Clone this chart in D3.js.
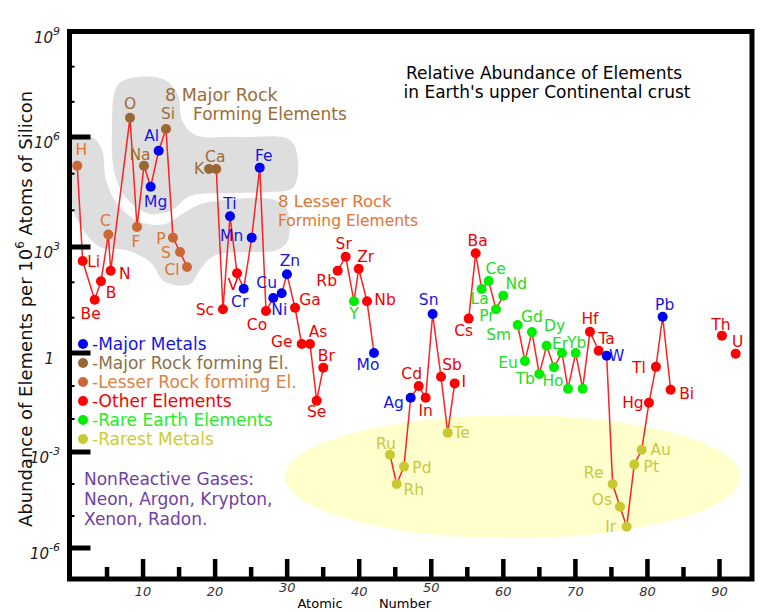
<!DOCTYPE html>
<html><head><meta charset="utf-8">
<script src="https://cdn.jsdelivr.net/npm/d3@7"></script>
<style>body{margin:0;background:#fff}svg{display:block}text{font-family:"DejaVu Sans",sans-serif}</style>
</head><body><svg id="c" width="766" height="612"></svg>
<script>
// ---------------- DATA ----------------
const symbols = ["H","Li","Be","B","C","N","O","F","Na","Mg","Al","Si","P","S","Cl","K","Ca","Sc","Ti","V","Cr","Mn","Fe","Co","Ni","Cu","Zn","Ga","Ge","As","Se","Br","Rb","Sr","Y","Zr","Nb","Mo","Ru","Rh","Pd","Ag","Cd","In","Sn","Sb","Te","I","Cs","Ba","La","Ce","Pr","Nd","Sm","Eu","Gd","Tb","Dy","Ho","Er","Tm","Yb","Lu","Hf","Ta","W","Re","Os","Ir","Pt","Au","Hg","Tl","Pb","Bi","Th","U"];
// position along the atomic-number axis, as drawn in the picture
const atomicPos = [0.87,1.62,3.29,4.16,5.18,5.51,8.19,9.16,10.13,11.06,12.17,13.18,14.15,15.13,16.10,19.15,20.16,21.09,22.07,23.04,23.97,25.08,26.19,27.06,28.07,29.24,29.97,31.09,32.02,33.17,34.10,35.01,37.01,38.12,39.27,39.93,41.08,42.05,44.27,45.20,46.21,47.14,48.25,49.22,50.19,51.35,52.28,53.25,55.19,56.16,56.99,57.97,58.98,59.99,61.99,63.0,63.97,64.99,66.01,67.03,68.14,68.97,70.04,71.01,72.02,73.23,74.34,75.17,76.19,77.12,78.17,79.2,80.21,81.18,82.11,83.22,90.34,92.24];
// abundance, atoms per 10^6 atoms of Si
const abundance = [1.65e5,4.0e2,32,107,2.2e3,213,3.54e6,3.5e3,1.65e5,4.4e4,4.2e5,1.69e6,1.8e3,720,272,1.34e5,1.34e5,17.3,6.9e3,180,66,1.8e3,1.46e5,15.5,36,49,169,19,1.8,1.8,0.036,0.36,213,531,29,243,29,1.0,8.2e-4,1.0e-4,3.5e-4,0.044,0.10,0.044,12.7,0.19,3.8e-3,0.12,9.4,664,65,109,17.3,42,6.2,0.57,3.9,0.23,1.6,0.37,1.0,0.083,1.0,0.083,4.0,1.16,0.83,1.0e-4,1.95e-5,4.6e-6,4.1e-4,1.17e-3,0.031,0.38,10.6,0.077,3.1,0.95];
const group = ["lesser","other","other","other","lesser","other","major","lesser","major","metal","metal","major","lesser","lesser","lesser","major","major","other","metal","other","metal","metal","metal","other","metal","metal","metal","other","other","other","other","other","other","other","rare","other","other","metal","rarest","rarest","rarest","metal","other","other","metal","other","rarest","other","other","other","rare","rare","rare","rare","rare","rare","rare","rare","rare","rare","rare","rare","rare","rare","other","other","metal","rarest","rarest","rarest","rarest","rarest","other","other","metal","other","other","other"];
// the connecting line is interrupted before these elements
const lineBreaksBefore = ["K","Rb","Ru","Cs","Sm","Th","U"];
const unlabeled = ["Tm","Lu"];

const legendKeys = ["metal","major","lesser","other","rare","rarest"];
const legendNames = ["-Major Metals","-Major Rock forming El.","-Lesser Rock forming El.","-Other Elements","-Rare Earth Elements","-Rarest Metals"];

const xTicks = [5,10,15,20,25,30,35,40,45,50,55,60,65,70,75,80,85,90];
const xTickLabels = [10,20,30,40,50,60,70,80,90];
const yDecades = [-6,-5,-4,-3,-2,-1,0,1,2,3,4,5,6,7,8,9];
const yLabelDecades = [9,6,3,0,-3,-6];

// background regions: [atomic position, log10 abundance]
const majorBlob = [[6.52,7.48],[9.58,7.71],[13.04,7.62],[14.85,7.19],[15.4,6.48],[17.21,6.06],[23.45,6.0],[30.39,5.92],[31.5,5.37],[30.81,4.61],[27.62,4.5],[22.07,4.47],[16.51,4.39],[14.02,4.01],[10.96,3.9],[7.91,4.28],[6.11,4.96],[5.69,6.2]];
const lesserBlob = [[0,5.92],[2.91,6.0],[4.3,5.65],[4.86,4.83],[6.52,4.15],[9.58,3.68],[13.04,3.63],[15.82,3.95],[18.6,4.2],[28.31,4.28],[29.97,4.01],[30.11,3.19],[28.73,2.92],[19.98,2.77],[17.9,2.35],[16.51,1.95],[13.04,2.01],[10.96,2.58],[7.49,2.92],[4.02,3.0],[1.25,3.6],[0,4.28]];
const rarestEllipse = {x0:29.7, x1:92.9, logTop:-1.88, logBottom:-5.69};

// ---------------- LAYOUT / STYLE ----------------
const labelOffset = {
 H:[4,-16],Li:[11,1],Be:[-4,14],B:[10,12],C:[-3,-13],N:[14,3],O:[0,-14],F:[-1,15],Na:[-4,-11],Mg:[5,15],Al:[-7,-15],Si:[2,-15],
 P:[-12,1],S:[-14,1],Cl:[-15,3],K:[-10,0],Ca:[-1,-12],Sc:[-18,1],Ti:[0,-12],V:[-4,12],Cr:[-4,13],Mn:[-20,-2],Fe:[4,-12],
 Co:[-9,14],Ni:[6,12],Cu:[-15,-10],Zn:[3,-13],Ga:[15,-8],Ge:[-20,-2],As:[8,-12],Se:[0,11],Br:[3,-12],Rb:[-11,10],Sr:[-2,-13],
 Y:[0,13],Zr:[7,-12],Nb:[18,-1],Mo:[-6,12],Ru:[-4,-11],Rh:[17,6],Pd:[18,1],Ag:[-17,5],Cd:[-7,-12],In:[0,13],Sn:[-4,-14],
 Sb:[11,-12],Te:[14,0],I:[9,-1],Cs:[-5,12],Ba:[2,-12],La:[-2,10],Ce:[7,-12],Pr:[-9,7],Nd:[13,-12],Sm:[-19,10],Eu:[-17,2],
 Gd:[0,-15],Tb:[-14,5],Dy:[8,-20],Ho:[-1,14],Er:[-2,-9],Yb:[1,-10],Hf:[0,-13],Ta:[8,-12],W:[10,0],Re:[-19,-11],Os:[-18,-7],
 Ir:[-16,0],Pt:[17,3],Au:[19,0],Hg:[-16,0],Tl:[-17,1],Pb:[2,-12],Bi:[16,4],Th:[-1,-11],U:[2,-12]
};
const pointColor = {metal:"#0000f0",major:"#9a6632",lesser:"#cc6633",other:"#ff0000",rare:"#00ee00",rarest:"#c8c832"};
const labelColor = {metal:"#1414e6",major:"#9c6c38",lesser:"#e07432",other:"#f00000",rare:"#22dd22",rarest:"#c8c840"};
const legendColor = {metal:"#1414e6",major:"#8e7048",lesser:"#e08040",other:"#f00000",rare:"#22ee22",rarest:"#cccc33"};

const svg = d3.select("#c");
const x = d3.scaleLinear().domain([0,90]).range([71,719.5]);
const y = d3.scaleLog().domain([1e-6,1e-3,1,1e3,1e6,1e9]).range([548,452,353,247,137,31.5]);
const yl = v => y(Math.pow(10,v));
const frame = {left:69.5,right:752,top:y(1e9),bottom:579};

// background shapes
const blobLine = d3.line().x(d=>x(d[0])).y(d=>yl(d[1])).curve(d3.curveCatmullRomClosed.alpha(0.5));
svg.append("path").attr("d",blobLine(majorBlob)).attr("fill","#dedede");
svg.append("path").attr("d",blobLine(lesserBlob)).attr("fill","#dedede");
svg.append("ellipse")
  .attr("cx",(x(rarestEllipse.x0)+x(rarestEllipse.x1))/2)
  .attr("cy",(yl(rarestEllipse.logTop)+yl(rarestEllipse.logBottom))/2)
  .attr("rx",(x(rarestEllipse.x1)-x(rarestEllipse.x0))/2)
  .attr("ry",(yl(rarestEllipse.logBottom)-yl(rarestEllipse.logTop))/2)
  .attr("fill","#ffffcc");

// annotations
function txt(s,px,py,opts={}){
  return svg.append("text").attr("x",px).attr("y",py).text(s)
    .attr("font-size",opts.size||16).attr("fill",opts.fill||"#000")
    .attr("text-anchor",opts.anchor||"start").attr("dominant-baseline","central");
}
txt("8 Major Rock",165,95,{size:17.5,fill:"#9c6c38"});
txt("Forming Elements",193,114,{size:17,fill:"#9c6c38"});
txt("8 Lesser Rock",278,201,{size:16.5,fill:"#e07432"});
txt("Forming Elements",278,221,{size:15.5,fill:"#e07432"});
txt("Relative Abundance of Elements",544,73,{size:17,anchor:"middle"});
txt("in Earth's upper Continental crust",547,92,{size:17,anchor:"middle"});
["NonReactive Gases:","Neon, Argon, Krypton,","Xenon, Radon."].forEach((s,i)=>txt(s,84,479+i*20,{size:17,fill:"#7040a8"}));

// legend
legendKeys.forEach((k,i)=>{
  const cy = 344 + i*19;
  svg.append("circle").attr("cx",83).attr("cy",cy).attr("r",5).attr("fill",pointColor[k]);
  txt(legendNames[i],92,cy,{size:17,fill:legendColor[k]});
});

// data
const data = symbols.map((s,i)=>({s,x:atomicPos[i],v:abundance[i],g:group[i]}));
const segments = [];
data.forEach(d=>{
  if(!segments.length || lineBreaksBefore.includes(d.s)) segments.push([]);
  segments[segments.length-1].push(d);
});
const line = d3.line().x(d=>x(d.x)).y(d=>y(d.v));
svg.append("g").selectAll("path").data(segments).join("path")
  .attr("d",line).attr("fill","none").attr("stroke","#ff2020").attr("stroke-width",1.5);
svg.append("g").selectAll("circle").data(data).join("circle")
  .attr("cx",d=>x(d.x)).attr("cy",d=>y(d.v)).attr("r",5).attr("fill",d=>pointColor[d.g]);
svg.append("g").selectAll("text").data(data.filter(d=>!unlabeled.includes(d.s))).join("text")
  .attr("x",d=>x(d.x)+labelOffset[d.s][0]).attr("y",d=>y(d.v)+labelOffset[d.s][1])
  .attr("text-anchor","middle").attr("dominant-baseline","central")
  .attr("font-size",15.5).attr("fill",d=>labelColor[d.g]).text(d=>d.s);

// frame
svg.append("rect").attr("x",frame.left).attr("y",frame.top)
  .attr("width",frame.right-frame.left).attr("height",frame.bottom-frame.top)
  .attr("fill","none").attr("stroke","#000").attr("stroke-width",5);

// x ticks
svg.append("g").selectAll("rect").data(xTicks).join("rect")
  .attr("x",d=>x(d)-2.25).attr("width",4.5)
  .attr("y",d=>frame.bottom-(d%10===0?20:12)).attr("height",d=>d%10===0?20:12).attr("fill","#000");
svg.append("g").selectAll("text").data(xTickLabels).join("text")
  .attr("x",d=>x(d)).attr("y",d=>(d===30||d===50)?587:591).attr("text-anchor","middle").attr("dominant-baseline","central")
  .attr("font-size",13).attr("font-style","italic").attr("fill","#333").text(d=>d);
txt("Atomic",320,603,{size:13,anchor:"middle"});
txt("Number",405,603,{size:13,anchor:"middle"});

// y ticks
yDecades.filter(e=>e<9).forEach(e=>{
  const major = e%3===0;
  svg.append("rect").attr("x",frame.left).attr("width",major?21:5)
    .attr("y",yl(e)-(major?2.5:1)).attr("height",major?5:2).attr("fill","#000");
});
yLabelDecades.forEach(e=>{
  const t = svg.append("text").attr("x",e===0?54:60).attr("y",yl(e)+11)
    .attr("text-anchor","end").attr("font-size",15).attr("font-style","italic").attr("fill","#222");
  if(e===0){ t.text("1"); }
  else { t.append("tspan").text("10"); t.append("tspan").attr("dy",-8).attr("font-size",11).text(e); }
});

// y axis title
const yt = svg.append("text").attr("transform","translate(32,309) rotate(-90)")
  .attr("text-anchor","middle").attr("font-size",18).attr("fill","#111");
yt.append("tspan").text("Abundance of Elements per 10");
yt.append("tspan").attr("dy",-8).attr("font-size",12).text("6");
yt.append("tspan").attr("dy",8).text(" Atoms of Silicon");
</script></body></html>
